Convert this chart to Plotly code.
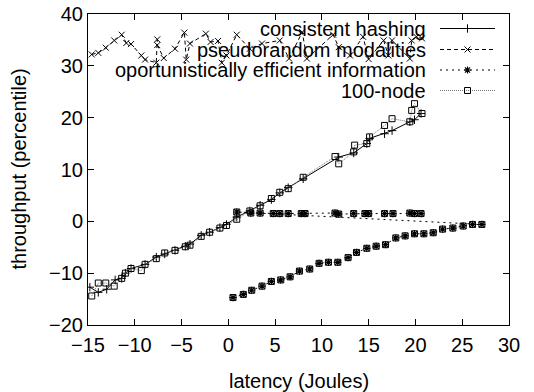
import plotly.graph_objects as go

# ---- data ----
# consistent hashing
ch_x = [-14.8, -13.9, -13.0, -12.1, -11.4, -11.0, -10.4, -8.9, -7.7, -6.8, -5.7, -4.6, -4.1,
        -2.9, -2.0, -0.9, -0.2, 0.9, 2.3, 3.4, 4.6, 5.5, 6.4, 8.0, 11.8, 13.4, 14.8, 15.1,
        16.7, 17.5, 19.4, 19.9, 20.6]
ch_y = [-12.7, -13.7, -13.1, -11.3, -11.0, -10.0, -9.1, -8.3, -6.9, -6.3, -5.6, -4.8, -4.4,
        -2.7, -2.1, -1.2, -0.6, 0.8, 2.0, 3.1, 4.2, 5.5, 6.5, 8.2, 12.4, 13.2, 15.0, 16.0,
        16.9, 17.5, 19.2, 19.6, 20.8]

# pseudorandom modalities
pm_x = [-14.6, -13.9, -13.1, -12.2, -11.4, -10.9, -10.4, -9.3, -8.9, -7.7, -7.6, -7.6, -6.9,
        -5.7, -4.7, -4.5, -4.1, -2.4, -1.9, -1.1, -0.7, -0.2, 0.9, 2.3, 3.6, 5.5, 6.5, 7.9,
        8.4, 11.2, 11.8, 13.0, 14.4, 15.0, 16.6, 17.1, 17.5, 19.4, 19.6, 20.1, 20.7]
pm_y = [32.2, 32.5, 33.5, 34.9, 36.0, 34.4, 34.2, 32.0, 31.2, 30.6, 35.1, 34.0, 31.5,
        33.3, 36.4, 31.2, 34.3, 36.2, 34.6, 34.8, 30.6, 32.0, 36.0, 33.3, 34.3, 34.9, 31.4, 36.5,
        31.4, 36.0, 33.6, 32.0, 35.6, 31.3, 34.9, 32.0, 34.9, 31.4, 34.9, 35.6, 35.3]

# oportunistically efficient information (lower curve, then the flat row)
oe_x = [0.5, 1.6, 2.5, 3.6, 4.6, 5.6, 6.6, 7.6, 8.7, 9.7, 10.7, 11.7, 12.8, 13.7, 14.8, 15.8,
        16.8, 17.9, 18.9, 19.9, 20.9, 21.9, 22.9, 24.0, 25.1, 26.1, 27.1,
        0.9, 2.4, 3.4, 4.8, 5.5, 6.4, 7.8, 8.2, 11.4, 11.8, 13.4, 14.6, 15.0, 16.7, 17.6,
        19.4, 19.9, 20.6]
oe_y = [-14.7, -14.1, -13.3, -12.5, -11.6, -11.3, -10.7, -9.6, -9.2, -8.1, -7.9, -7.9, -7.0,
        -6.0, -5.2, -4.8, -4.5, -3.2, -2.8, -2.4, -2.4, -2.2, -1.5, -1.3, -0.9, -0.6, -0.6,
        1.8, 1.6, 1.6, 1.5, 1.5, 1.5, 1.5, 1.5, 1.6, 1.4, 1.5, 1.5, 1.5, 1.5, 1.5,
        1.6, 1.5, 1.5]

# 100-node
nd_x = [-14.6, -13.9, -13.1, -12.2, -11.4, -11.0, -10.4, -9.3, -8.9, -7.7, -6.8, -5.7, -4.6,
        -4.1, -2.9, -2.0, -0.9, -0.2, 0.9, 2.3, 3.4, 4.6, 5.5, 6.4, 8.0, 11.4, 11.8, 13.4,
        13.5, 14.8, 15.1, 16.7, 17.5, 19.4, 19.6, 19.9, 20.7]
nd_y = [-14.4, -11.9, -11.9, -12.5, -11.0, -10.0, -9.1, -9.5, -8.3, -7.2, -6.1, -5.6, -4.9,
        -4.6, -2.9, -2.1, -1.3, -0.8, 0.4, 2.0, 3.0, 4.4, 5.6, 6.3, 8.5, 12.5, 11.1, 13.4,
        14.7, 15.0, 16.3, 18.5, 19.8, 19.2, 21.4, 22.7, 20.8]

series_names = ["consistent hashing", "pseudorandom modalities",
                "oportunistically efficient information", "100-node"]
x_ticks = [-15, -10, -5, 0, 5, 10, 15, 20, 25, 30]
y_ticks = [-20, -10, 0, 10, 20, 30, 40]
x_title = "latency (Joules)"
y_title = "throughput (percentile)"

# ---- styles ----
FONT = "Liberation Sans, Arial, Helvetica, sans-serif"
FS = 20
W, H = 534, 392
L, R, T, B = 88, 25, 14, 67
PW, PH = W - L - R, H - T - B

styles = [
    dict(line=dict(color="black", width=1),
         marker=dict(symbol="cross-thin-open", size=6, color="black", line=dict(width=1, color="black"))),
    dict(line=dict(color="black", width=1, dash="4px,3px"),
         marker=dict(symbol="x-thin-open", size=6, color="black", line=dict(width=1, color="black"))),
    dict(line=dict(color="black", width=1, dash="2px,4px"),
         marker=dict(symbol="asterisk-open", size=6, color="black", line=dict(width=1.2, color="black"))),
    dict(line=dict(color="#777777", width=1, dash="1px,1px"),
         marker=dict(symbol="square-open", size=6, color="black", line=dict(width=1, color="black"))),
]

fig = go.Figure()
data = [(ch_x, ch_y), (pm_x, pm_y), (oe_x, oe_y), (nd_x, nd_y)]
for (xs, ys), st in zip(data, styles):
    fig.add_trace(go.Scatter(x=xs, y=ys, mode="lines+markers", showlegend=False, **st))

# square outlines drawn over the efficient-information points
fig.add_trace(go.Scatter(x=oe_x, y=oe_y, mode="markers", showlegend=False,
                         marker=styles[3]["marker"]))

# ---- custom legend (text left of the sample, as in the reference) ----
leg_rows = [28.5, 49.5, 70, 90.5]
leg_text_right = 428
leg_line = (440, 495)
for name, row, st in zip(series_names, leg_rows, styles):
    fig.add_trace(go.Scatter(x=[leg_line[0], leg_line[1]], y=[row, row], mode="lines",
                             line=st["line"], xaxis="x2", yaxis="y2", showlegend=False,
                             hoverinfo="skip"))
    fig.add_trace(go.Scatter(x=[(leg_line[0] + leg_line[1]) / 2], y=[row], mode="markers",
                             marker=st["marker"], xaxis="x2", yaxis="y2", showlegend=False,
                             hoverinfo="skip"))
    fig.add_annotation(x=leg_text_right, y=row, xref="x2", yref="y2", text=name,
                       showarrow=False, xanchor="right", yanchor="middle",
                       font=dict(family=FONT, size=FS, color="black"))

# axis titles placed as annotations (paper coords span the plot area)
fig.add_annotation(x=0.5, y=(H - B - 381) / PH, xref="paper", yref="paper",
                   text=x_title, showarrow=False, xanchor="center", yanchor="middle",
                   font=dict(family=FONT, size=FS, color="black"))
fig.add_annotation(x=(18 - L) / PW, y=0.5, xref="paper", yref="paper",
                   text=y_title, showarrow=False, textangle=-90,
                   xanchor="center", yanchor="middle",
                   font=dict(family=FONT, size=FS, color="black"))

axis_common = dict(showline=True, linecolor="black", linewidth=1, mirror="ticks",
                   ticks="inside", ticklen=6, tickcolor="black", tickwidth=1,
                   showgrid=False, zeroline=False, automargin=False,
                   tickfont=dict(family=FONT, size=FS, color="black"))

fig.update_layout(
    width=W, height=H,
    margin=dict(l=L, r=R, t=T, b=B),
    paper_bgcolor="white", plot_bgcolor="white",
    font=dict(family=FONT, size=FS, color="black"),
    xaxis=dict(range=[-15, 30], tickvals=x_ticks, ticklabelstandoff=2, **axis_common),
    yaxis=dict(range=[-20, 40], tickvals=y_ticks, ticklabelstandoff=0, **axis_common),
    xaxis2=dict(range=[L, W - R], overlaying="x", visible=False, fixedrange=True),
    yaxis2=dict(range=[H - B, T], overlaying="y", visible=False, fixedrange=True),
)

fig.write_html("out.html")
